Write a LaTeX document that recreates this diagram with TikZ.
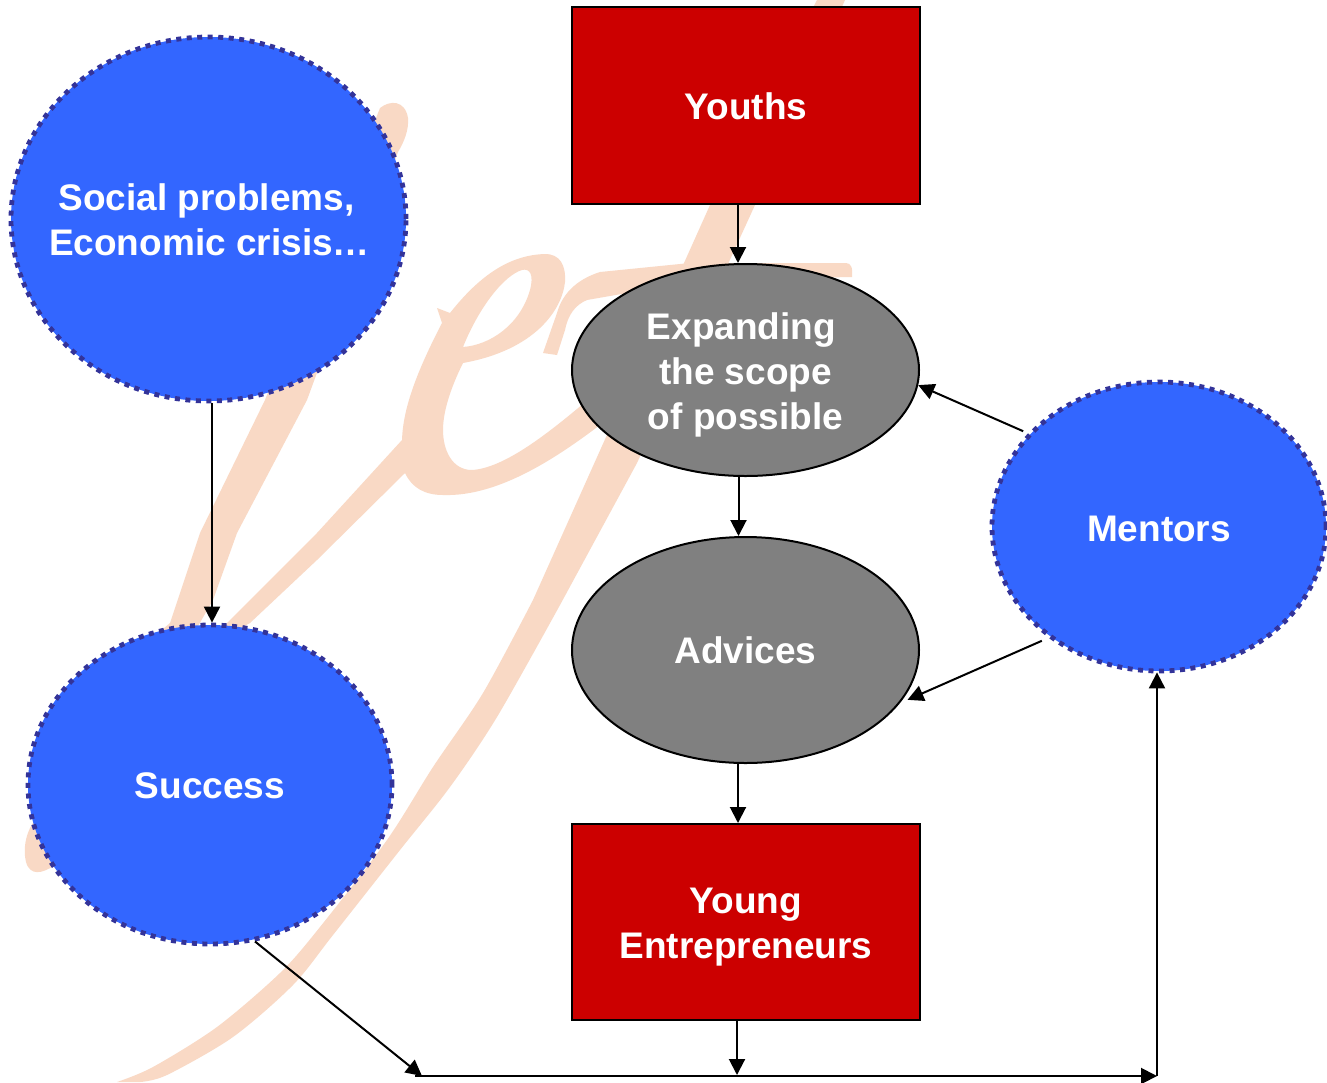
\documentclass[tikz,border=0pt]{standalone}
\usepackage{fontspec}
\setmainfont{Liberation Sans}
\usetikzlibrary{shapes.geometric,arrows.meta}
\definecolor{wm}{HTML}{F9D9C5}
\definecolor{dotblue}{HTML}{333399}
\definecolor{circblue}{HTML}{3366FF}
\definecolor{boxred}{HTML}{CC0000}
\definecolor{ovalgrey}{HTML}{808080}
\tikzset{
  lab/.style={text=white,font=\fontsize{37}{45}\selectfont\bfseries,align=center,inner sep=0pt},
  dotcirc/.style={ellipse,inner sep=0pt,fill=circblue,draw=dotblue,line width=4.8pt,dash pattern=on 5pt off 5.5pt},
  greyoval/.style={ellipse,inner sep=0pt,fill=ovalgrey,draw=black,line width=2pt},
  redbox/.style={rectangle,inner sep=0pt,fill=boxred,draw=black,line width=2pt},
  conn/.style={draw=black,line width=2pt,-{Triangle[length=16pt,width=16pt]}}
}
\begin{document}
\begin{tikzpicture}[x=1pt,y=-1pt]
\useasboundingbox (0,0) rectangle (1327,1082);
\fill[white] (0,0) rectangle (1327,1082);
% watermark: y stroke
\fill[wm] (380,108) .. controls (390,100) and (405,100) .. (408,118) .. controls (409,130) and (404,142) .. (398,152)
  -- (307,400) -- (237,533) -- (213,600) -- (190,640) -- (150,640) -- (170,623) -- (200,533) -- (265,400) -- cycle;
% watermark: y right strand and e
\fill[wm,even odd rule] (437,308) -- (450,313) .. controls (480,275) and (510,255) .. (545,254)
  .. controls (560,254) and (566,265) .. (565,282) .. controls (562,310) and (535,350) .. (463,363)
  .. controls (452,385) and (443,410) .. (443,430) .. controls (443,450) and (452,470) .. (472,470)
  .. controls (505,468) and (550,432) .. (590,398) -- (610,405) -- (600,425)
  .. controls (560,455) and (500,497) .. (443,495) .. controls (425,495) and (412,488) .. (405,473)
  -- (317,560) -- (250,623) -- (200,650) -- (233,617) -- (317,533) -- (402,440)
  .. controls (403,410) and (415,375) .. (442,323) -- cycle
  (463,347) .. controls (490,345) and (520,325) .. (530,290) .. controls (534,275) and (530,268) .. (522,270)
  .. controls (505,275) and (480,305) .. (463,347) -- cycle;
% watermark: f long stroke
\fill[wm] (845,0) -- (755,205) -- (637,463)
  -- plot[smooth] coordinates {(560,605) (497,717) (450,787) (400,850) (333,935) (293,985) (233,1037) (167,1075) (140,1082)}
  -- plot[smooth] coordinates {(117,1082) (153,1067) (217,1027) (280,973) (320,927) (387,840) (433,767) (483,693) (533,600)}
  -- (710,205) -- (817,0) -- cycle;
% watermark: f crossbar
\fill[wm] (846,263) .. controls (851,263) and (853,268) .. (852,277) -- (700,280) -- (633,292) -- (587,300)
  .. controls (575,305) and (568,315) .. (565,330) -- (557,355) -- (543,353) -- (557,313)
  .. controls (562,295) and (575,280) .. (600,272) -- (690,263) -- cycle;
% watermark: tail blob
\fill[wm] (40,815) .. controls (28,825) and (22,845) .. (26,862) .. controls (30,876) and (42,874) .. (55,865) -- (60,820) -- cycle;
% nodes
\node[dotcirc,minimum width=395pt,minimum height=364pt,label={[lab,yshift=-1pt,xshift=1pt]center:{Social problems,\hspace*{6pt}\\Economic crisis…}}] (social) at (208.5,219) {};
\node[dotcirc,minimum width=364pt,minimum height=319pt,label={[lab,yshift=-1pt]center:{Success}}] (success) at (210,784.5) {};
\node[dotcirc,minimum width=334pt,minimum height=289pt,label={[lab,yshift=-2pt]center:{Mentors}}] (mentors) at (1159,526.5) {};
\node[redbox,minimum width=348pt,minimum height=197pt,label={[lab,yshift=-1pt]center:{Youths}}] (youths) at (746,105.5) {};
\node[greyoval,minimum width=347pt,minimum height=212pt,label={[lab,yshift=-5pt]center:{Expanding\hspace*{8pt}\\the scope\\of possible}}] (expanding) at (745.5,370) {};
\node[greyoval,minimum width=347pt,minimum height=226pt,label={[lab]center:{Advices}}] (advices) at (745.5,650) {};
\node[redbox,minimum width=348pt,minimum height=196pt,label={[lab,yshift=-5pt]center:{Young\\Entrepreneurs}}] (young) at (746,922) {};
\coordinate (busL) at (415,1076);
\coordinate (busLtip) at (422,1076);
\coordinate (busM) at (737,1075);
\coordinate (busR) at (1157,1076);
% connectors
\draw[conn] ([xshift=-8pt]youths.south) -- ([xshift=-7.5pt]expanding.north);
\draw[conn] ([xshift=-7pt]expanding.south) -- ([xshift=-7pt]advices.north);
\draw[conn] ([xshift=-7.5pt]advices.south) -- ([xshift=-8pt]young.north);
\draw[conn] ([xshift=3.5pt]social.south) -- ([xshift=2pt]success.north);
\draw[conn] ([xshift=-9pt]young.south) -- (busM);
\draw[conn] ([shift={(-4,-3)}]mentors.145) -- (expanding.-5);
\draw[conn] ([shift={(-4,5)}]mentors.224.4) -- ([shift={(4,1.5)}]advices.-17);
\draw[conn] (success.-74) -- (busLtip);
\draw[conn] (busL) -- (busR);
\draw[conn] (busR) -- ([xshift=-2pt,yshift=1pt]mentors.south);
\end{tikzpicture}
\end{document}
